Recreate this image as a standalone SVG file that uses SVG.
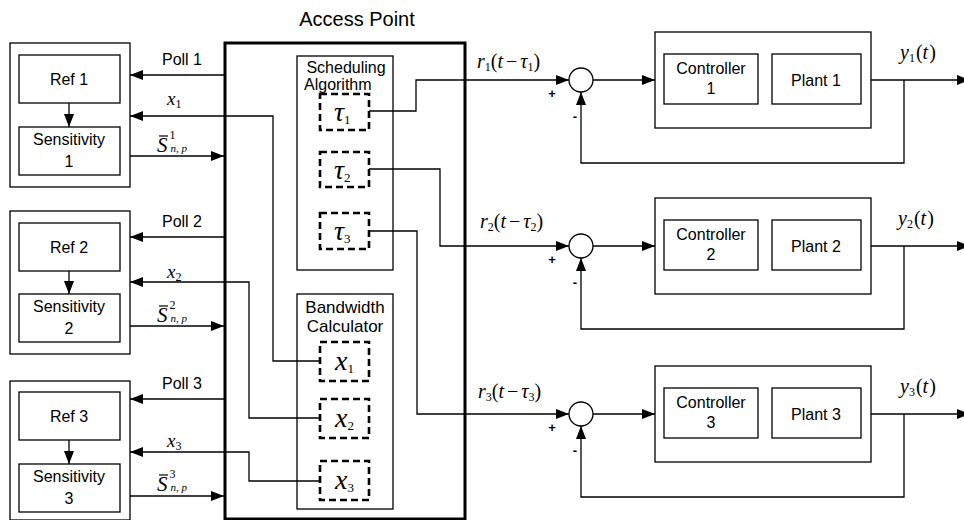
<svg xmlns="http://www.w3.org/2000/svg" width="964" height="520" viewBox="0 0 964 520">
<defs>
<marker id="ah" viewBox="0 0 13 10" refX="13" refY="5" markerWidth="13" markerHeight="10" markerUnits="userSpaceOnUse" orient="auto"><path d="M0,0 L13,5 L0,10 z" fill="#000"/></marker>
</defs>
<style>
.b{fill:#fff;stroke:#000;stroke-width:1.3}
.ap{fill:#fff;stroke:#000;stroke-width:3}
.d{fill:#fff;stroke:#000;stroke-width:2.6;stroke-dasharray:7,4}
.c{fill:none;stroke:#000;stroke-width:1.2}
.a{fill:none;stroke:#000;stroke-width:1.3;marker-end:url(#ah)}
.t{font-family:"Liberation Sans",Arial,sans-serif;font-size:16px;fill:#000}
.m{font-family:"Liberation Serif","Times New Roman",serif;font-style:italic;fill:#000}
.big{font-size:28px}
.sub{font-size:12px;font-style:normal}
.bsub{font-size:13px;font-style:normal}
.lab{font-size:20px}
.n{font-style:normal}
.pm{font-size:13px;font-weight:bold}
</style>
<text class="t" x="357" y="26" text-anchor="middle" style="font-size:20px">Access Point</text>
<g id="accesspoint"><rect class="ap" x="225" y="43" width="240" height="476"/></g>
<g id="scheduling"><rect class="b" x="297" y="56" width="96" height="214"/>
<text class="t" x="346" y="73" text-anchor="middle">Scheduling</text><text class="t" x="304" y="90">Algorithm</text></g>
<g id="bandwidth"><rect class="b" x="297" y="294" width="96" height="215"/>
<text class="t" x="345" y="313" text-anchor="middle" style="font-size:17px">Bandwidth</text><text class="t" x="345" y="332" text-anchor="middle" style="font-size:17px">Calculator</text></g>
<g id="tau1"><rect class="d" x="320" y="94" width="49" height="36"/><text class="m big" x="334" y="121">τ<tspan class="bsub" dy="3">1</tspan></text></g>
<g id="tau2"><rect class="d" x="320" y="152" width="49" height="35"/><text class="m big" x="334" y="179">τ<tspan class="bsub" dy="3">2</tspan></text></g>
<g id="tau3"><rect class="d" x="320" y="213" width="49" height="36"/><text class="m big" x="334" y="240">τ<tspan class="bsub" dy="3">3</tspan></text></g>
<g id="x1"><rect class="d" x="320" y="342" width="49" height="39"/><text class="m big" x="335" y="370">x<tspan class="bsub" dy="3">1</tspan></text></g>
<g id="x2"><rect class="d" x="320" y="399" width="49" height="39"/><text class="m big" x="335" y="427">x<tspan class="bsub" dy="3">2</tspan></text></g>
<g id="x3"><rect class="d" x="320" y="461" width="49" height="39"/><text class="m big" x="335" y="489">x<tspan class="bsub" dy="3">3</tspan></text></g>

<g id="panel1"><rect class="b" x="10" y="43" width="120" height="144"/>
<rect class="b" x="19" y="55" width="101" height="48"/><text class="t" x="69" y="85" text-anchor="middle">Ref 1</text>
<rect class="b" x="19" y="127" width="101" height="48"/><text class="t" x="69" y="145" text-anchor="middle">Sensitivity</text><text class="t" x="69" y="167" text-anchor="middle">1</text></g>
<g id="panel2"><rect class="b" x="10" y="211" width="120" height="143"/>
<rect class="b" x="19" y="223" width="101" height="48"/><text class="t" x="69" y="253" text-anchor="middle">Ref 2</text>
<rect class="b" x="19" y="294" width="101" height="48"/><text class="t" x="69" y="312" text-anchor="middle">Sensitivity</text><text class="t" x="69" y="334" text-anchor="middle">2</text></g>
<g id="panel3"><rect class="b" x="10" y="381" width="120" height="139"/>
<rect class="b" x="19" y="392" width="101" height="48"/><text class="t" x="69" y="422" text-anchor="middle">Ref 3</text>
<rect class="b" x="19" y="464" width="101" height="48"/><text class="t" x="69" y="482" text-anchor="middle">Sensitivity</text><text class="t" x="69" y="504" text-anchor="middle">3</text></g>

<g id="loop1"><circle class="b" cx="581" cy="80" r="12"/>
<rect class="b" x="655" y="32" width="216" height="96"/>
<rect class="b" x="664" y="54" width="94" height="50"/><text class="t" x="711" y="74" text-anchor="middle">Controller</text><text class="t" x="711" y="94" text-anchor="middle">1</text>
<rect class="b" x="772" y="54" width="89" height="50"/><text class="t" x="816" y="86" text-anchor="middle">Plant 1</text></g>
<g id="loop2"><circle class="b" cx="581" cy="246" r="12"/>
<rect class="b" x="655" y="198" width="216" height="96"/>
<rect class="b" x="664" y="220" width="94" height="50"/><text class="t" x="711" y="240" text-anchor="middle">Controller</text><text class="t" x="711" y="260" text-anchor="middle">2</text>
<rect class="b" x="772" y="220" width="89" height="50"/><text class="t" x="816" y="252" text-anchor="middle">Plant 2</text></g>
<g id="loop3"><circle class="b" cx="581" cy="414" r="12"/>
<rect class="b" x="655" y="366" width="216" height="96"/>
<rect class="b" x="664" y="388" width="94" height="50"/><text class="t" x="711" y="408" text-anchor="middle">Controller</text><text class="t" x="711" y="428" text-anchor="middle">3</text>
<rect class="b" x="772" y="388" width="89" height="50"/><text class="t" x="816" y="420" text-anchor="middle">Plant 3</text></g>

<g id="connectors">
<path class="a" d="M69,103 V127"/><path class="a" d="M69,271 V294"/><path class="a" d="M69,440 V464"/>
<path class="a" d="M225,75 H130"/><path class="a" d="M225,237 H130"/><path class="a" d="M225,399 H130"/>
<path class="a" d="M320,361 H273 V116 H130"/><path class="a" d="M320,418 H249 V282 H130"/><path class="a" d="M320,481 H249 V452 H130"/>
<path class="a" d="M130,156 H224"/><path class="a" d="M130,326 H224"/><path class="a" d="M130,496 H224"/>
<path class="a" d="M369,111 H416 V80 H569"/><path class="a" d="M369,169 H440 V246 H569"/><path class="a" d="M369,231 H417 V414 H569"/>
<path class="a" d="M593,80 H655"/><path class="a" d="M593,246 H655"/><path class="a" d="M593,414 H655"/>
<path class="a" d="M871,80 H970"/><path class="a" d="M871,246 H970"/><path class="a" d="M871,414 H970"/>
<path class="a" d="M904,80 V163 H581 V92"/><path class="a" d="M904,246 V329 H581 V258"/><path class="a" d="M904,414 V497 H581 V426"/>
</g>

<g id="labels">
<text class="t" x="182" y="65" text-anchor="middle">Poll 1</text>
<text class="t" x="182" y="227" text-anchor="middle">Poll 2</text>
<text class="t" x="182" y="389" text-anchor="middle">Poll 3</text>
<text class="m" x="167" y="105" style="font-size:19px">x<tspan class="sub" dy="3">1</tspan></text>
<text class="m" x="167" y="278" style="font-size:19px">x<tspan class="sub" dy="3">2</tspan></text>
<text class="m" x="167" y="447" style="font-size:19px">x<tspan class="sub" dy="3">3</tspan></text>
<g class="c"><path d="M159,136 H168"/><path d="M159,306 H168"/><path d="M159,475 H168"/></g>
<text class="m" x="157" y="152" style="font-size:21px">S<tspan class="sub" dx="2" dy="-13">1</tspan><tspan style="font-size:11px" dx="-5" dy="13">n, p</tspan></text>
<text class="m" x="157" y="322" style="font-size:21px">S<tspan class="sub" dx="2" dy="-13">2</tspan><tspan style="font-size:11px" dx="-5" dy="13">n, p</tspan></text>
<text class="m" x="157" y="491" style="font-size:21px">S<tspan class="sub" dx="2" dy="-13">3</tspan><tspan style="font-size:11px" dx="-5" dy="13">n, p</tspan></text>
<text class="m lab" x="477" y="68">r<tspan class="sub" dy="3">1</tspan><tspan class="n" dy="-3">(</tspan>t<tspan class="n" dx="3">−</tspan><tspan dx="3">τ</tspan><tspan class="sub" dy="3">1</tspan><tspan class="n" dy="-3">)</tspan></text>
<text class="m lab" x="480" y="228">r<tspan class="sub" dy="3">2</tspan><tspan class="n" dy="-3">(</tspan>t<tspan class="n" dx="3">−</tspan><tspan dx="3">τ</tspan><tspan class="sub" dy="3">2</tspan><tspan class="n" dy="-3">)</tspan></text>
<text class="m lab" x="478" y="398">r<tspan class="sub" dy="3">3</tspan><tspan class="n" dy="-3">(</tspan>t<tspan class="n" dx="3">−</tspan><tspan dx="3">τ</tspan><tspan class="sub" dy="3">3</tspan><tspan class="n" dy="-3">)</tspan></text>
<text class="m lab" x="900" y="59">y<tspan class="sub" dy="3">1</tspan><tspan class="n" dx="1" dy="-3">(</tspan>t<tspan class="n" dx="1">)</tspan></text>
<text class="m lab" x="898" y="225">y<tspan class="sub" dy="3">2</tspan><tspan class="n" dx="1" dy="-3">(</tspan>t<tspan class="n" dx="1">)</tspan></text>
<text class="m lab" x="900" y="393">y<tspan class="sub" dy="3">3</tspan><tspan class="n" dx="1" dy="-3">(</tspan>t<tspan class="n" dx="1">)</tspan></text>
<text class="t pm" x="552" y="98" text-anchor="middle">+</text>
<text class="t pm" x="552" y="264" text-anchor="middle">+</text>
<text class="t pm" x="552" y="432" text-anchor="middle">+</text>
<text class="t pm" x="575" y="121" text-anchor="middle">-</text>
<text class="t pm" x="575" y="287" text-anchor="middle">-</text>
<text class="t pm" x="575" y="455" text-anchor="middle">-</text>
</g>
</svg>
